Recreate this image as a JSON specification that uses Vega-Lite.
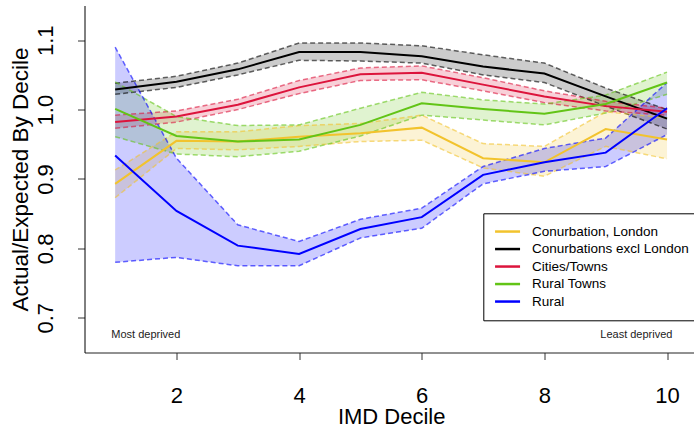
{
  "$schema": "https://vega.github.io/schema/vega-lite/v6.json",
  "width": 609.5,
  "height": 347,
  "autosize": {"type": "none"},
  "padding": {"left": 84.5, "top": 5.5, "right": 0, "bottom": 76.5},
  "background": "white",
  "config": {
    "font": "Liberation Sans",
    "view": {"stroke": null},
    "axis": {"grid": false, "labelColor": "black", "titleColor": "black", "titleFontWeight": "normal", "tickColor": "#333", "domainColor": "#222", "domainWidth": 1, "tickWidth": 1}
  },
  "datasets": {
    "series": [
      {"group": "Conurbation, London", "decile": 1, "mean": 0.893, "lo": 0.873, "hi": 0.913},
      {"group": "Conurbation, London", "decile": 2, "mean": 0.955, "lo": 0.944, "hi": 0.968},
      {"group": "Conurbation, London", "decile": 3, "mean": 0.954, "lo": 0.942, "hi": 0.968},
      {"group": "Conurbation, London", "decile": 4, "mean": 0.961, "lo": 0.947, "hi": 0.977},
      {"group": "Conurbation, London", "decile": 5, "mean": 0.966, "lo": 0.954, "hi": 0.980},
      {"group": "Conurbation, London", "decile": 6, "mean": 0.974, "lo": 0.956, "hi": 0.992},
      {"group": "Conurbation, London", "decile": 7, "mean": 0.930, "lo": 0.916, "hi": 0.951},
      {"group": "Conurbation, London", "decile": 8, "mean": 0.924, "lo": 0.904, "hi": 0.947},
      {"group": "Conurbation, London", "decile": 9, "mean": 0.972, "lo": 0.947, "hi": 0.997},
      {"group": "Conurbation, London", "decile": 10, "mean": 0.957, "lo": 0.929, "hi": 0.988},
      {"group": "Conurbations excl London", "decile": 1, "mean": 1.029, "lo": 1.022, "hi": 1.038},
      {"group": "Conurbations excl London", "decile": 2, "mean": 1.040, "lo": 1.032, "hi": 1.048},
      {"group": "Conurbations excl London", "decile": 3, "mean": 1.058, "lo": 1.050, "hi": 1.067},
      {"group": "Conurbations excl London", "decile": 4, "mean": 1.083, "lo": 1.071, "hi": 1.096},
      {"group": "Conurbations excl London", "decile": 5, "mean": 1.083, "lo": 1.070, "hi": 1.096},
      {"group": "Conurbations excl London", "decile": 6, "mean": 1.077, "lo": 1.067, "hi": 1.092},
      {"group": "Conurbations excl London", "decile": 7, "mean": 1.062, "lo": 1.050, "hi": 1.079},
      {"group": "Conurbations excl London", "decile": 8, "mean": 1.052, "lo": 1.039, "hi": 1.067},
      {"group": "Conurbations excl London", "decile": 9, "mean": 1.019, "lo": 1.005, "hi": 1.031},
      {"group": "Conurbations excl London", "decile": 10, "mean": 0.987, "lo": 0.972, "hi": 1.000},
      {"group": "Cities/Towns", "decile": 1, "mean": 0.982, "lo": 0.973, "hi": 0.992},
      {"group": "Cities/Towns", "decile": 2, "mean": 0.990, "lo": 0.982, "hi": 0.998},
      {"group": "Cities/Towns", "decile": 3, "mean": 1.007, "lo": 1.000, "hi": 1.015},
      {"group": "Cities/Towns", "decile": 4, "mean": 1.032, "lo": 1.023, "hi": 1.042},
      {"group": "Cities/Towns", "decile": 5, "mean": 1.051, "lo": 1.042, "hi": 1.060},
      {"group": "Cities/Towns", "decile": 6, "mean": 1.053, "lo": 1.043, "hi": 1.063},
      {"group": "Cities/Towns", "decile": 7, "mean": 1.036, "lo": 1.027, "hi": 1.046},
      {"group": "Cities/Towns", "decile": 8, "mean": 1.019, "lo": 1.010, "hi": 1.027},
      {"group": "Cities/Towns", "decile": 9, "mean": 1.005, "lo": 0.998, "hi": 1.012},
      {"group": "Cities/Towns", "decile": 10, "mean": 0.997, "lo": 0.992, "hi": 1.002},
      {"group": "Rural Towns", "decile": 1, "mean": 1.001, "lo": 0.961, "hi": 1.040},
      {"group": "Rural Towns", "decile": 2, "mean": 0.962, "lo": 0.936, "hi": 0.990},
      {"group": "Rural Towns", "decile": 3, "mean": 0.954, "lo": 0.932, "hi": 0.977},
      {"group": "Rural Towns", "decile": 4, "mean": 0.957, "lo": 0.940, "hi": 0.978},
      {"group": "Rural Towns", "decile": 5, "mean": 0.978, "lo": 0.962, "hi": 1.002},
      {"group": "Rural Towns", "decile": 6, "mean": 1.009, "lo": 0.992, "hi": 1.025},
      {"group": "Rural Towns", "decile": 7, "mean": 1.001, "lo": 0.985, "hi": 1.014},
      {"group": "Rural Towns", "decile": 8, "mean": 0.994, "lo": 0.978, "hi": 1.008},
      {"group": "Rural Towns", "decile": 9, "mean": 1.008, "lo": 0.995, "hi": 1.021},
      {"group": "Rural Towns", "decile": 10, "mean": 1.039, "lo": 1.022, "hi": 1.054},
      {"group": "Rural", "decile": 1, "mean": 0.934, "lo": 0.780, "hi": 1.090},
      {"group": "Rural", "decile": 2, "mean": 0.854, "lo": 0.787, "hi": 0.930},
      {"group": "Rural", "decile": 3, "mean": 0.804, "lo": 0.775, "hi": 0.834},
      {"group": "Rural", "decile": 4, "mean": 0.792, "lo": 0.775, "hi": 0.810},
      {"group": "Rural", "decile": 5, "mean": 0.828, "lo": 0.815, "hi": 0.842},
      {"group": "Rural", "decile": 6, "mean": 0.845, "lo": 0.829, "hi": 0.858},
      {"group": "Rural", "decile": 7, "mean": 0.906, "lo": 0.893, "hi": 0.918},
      {"group": "Rural", "decile": 8, "mean": 0.924, "lo": 0.911, "hi": 0.944},
      {"group": "Rural", "decile": 9, "mean": 0.938, "lo": 0.918, "hi": 0.959},
      {"group": "Rural", "decile": 10, "mean": 1.002, "lo": 0.964, "hi": 1.039}
    ],
    "notes": [
      {"label": "Most deprived", "decile": 1.5, "value": 0.675},
      {"label": "Least deprived", "decile": 9.5, "value": 0.675}
    ],
    "refs": [
      {"kind": "reference", "value": 1.0}
    ],
    "frame": [
      {"kind": "top", "value": 1.15}
    ]
  },
  "encoding": {
    "x": {
      "field": "decile", "type": "quantitative",
      "scale": {"domain": [0.5, 10.44], "nice": false, "zero": false},
      "axis": {
        "values": [2, 4, 6, 8, 10], "title": "IMD Decile",
        "labelFontSize": 22, "labelBaseline": "alphabetic", "labelPadding": 43, "labelFlush": false, "labelOverlap": false,
        "tickSize": 7, "titleFontSize": 22, "titleX": 306.7, "titleY": 70.5, "titleBaseline": "alphabetic", "titleAlign": "center", "titleAnchor": null
      }
    }
  },
  "resolve": {"legend": {"color": "independent"}},
  "layer": [
    {
      "data": {"name": "series"},
      "mark": {"type": "area", "opacity": 0.2},
      "encoding": {
        "y": {
          "field": "lo", "type": "quantitative", "stack": null, "title": "Actual/Expected By Decile",
          "scale": {"domain": [0.65, 1.15], "nice": false, "zero": false},
          "axis": {
            "values": [0.7, 0.8, 0.9, 1.0, 1.1], "format": ".1f",
            "labelAngle": 270, "labelAlign": "center", "labelBaseline": "alphabetic", "labelPadding": 25, "labelFontSize": 22, "labelFlush": false, "labelOverlap": false,
            "tickSize": 7, "domainColor": "black",
            "titleFontSize": 22.5, "titleX": -57.5, "titleY": 173.5, "titleAngle": 270, "titleBaseline": "alphabetic", "titleAlign": "center", "titleAnchor": null
          }
        },
        "y2": {"field": "hi"},
        "color": {
          "field": "group", "type": "nominal",
          "scale": {"domain": ["Conurbation, London", "Conurbations excl London", "Cities/Towns", "Rural Towns", "Rural"], "range": ["#F2C32D", "#000000", "#DC143C", "#62C416", "#0000FF"]},
          "legend": null
        }
      }
    },
    {
      "data": {"name": "series"},
      "mark": {"type": "line", "strokeWidth": 1.5, "strokeDash": [5, 3], "opacity": 0.6},
      "encoding": {
        "y": {"field": "lo", "type": "quantitative", "title": "Actual/Expected By Decile"},
        "color": {"field": "group", "type": "nominal", "legend": null}
      }
    },
    {
      "data": {"name": "series"},
      "mark": {"type": "line", "strokeWidth": 1.5, "strokeDash": [5, 3], "opacity": 0.6},
      "encoding": {
        "y": {"field": "hi", "type": "quantitative", "title": "Actual/Expected By Decile"},
        "color": {"field": "group", "type": "nominal", "legend": null}
      }
    },
    {
      "data": {"name": "series"},
      "mark": {"type": "line", "strokeWidth": 2},
      "encoding": {
        "y": {"field": "mean", "type": "quantitative", "title": "Actual/Expected By Decile"},
        "color": {
          "field": "group", "type": "nominal",
          "legend": {
            "orient": "none", "legendX": 398.8, "legendY": 207.8, "title": null,
            "strokeColor": "black", "fillColor": "white", "padding": 11.5,
            "symbolType": "M-1.3,0H3.7", "symbolSize": 100, "symbolStrokeWidth": 2.5,
            "labelFontSize": 13.5, "labelColor": "black", "labelOffset": 23.7, "rowPadding": 2.5, "labelLimit": 300
          }
        }
      }
    },
    {
      "data": {"name": "refs"},
      "mark": {"type": "rule", "color": "#808080", "strokeWidth": 2},
      "encoding": {"y": {"field": "value", "type": "quantitative", "title": "Actual/Expected By Decile"}}
    },
    {
      "data": {"name": "frame"},
      "mark": {"type": "rule", "color": "#555555", "strokeWidth": 1.5},
      "encoding": {"y": {"field": "value", "type": "quantitative", "title": "Actual/Expected By Decile"}}
    },
    {
      "data": {"name": "notes"},
      "mark": {"type": "text", "fontSize": 11, "color": "#222222", "align": "center", "baseline": "middle"},
      "encoding": {
        "y": {"field": "value", "type": "quantitative", "title": "Actual/Expected By Decile"},
        "text": {"field": "label"}
      }
    }
  ]
}
